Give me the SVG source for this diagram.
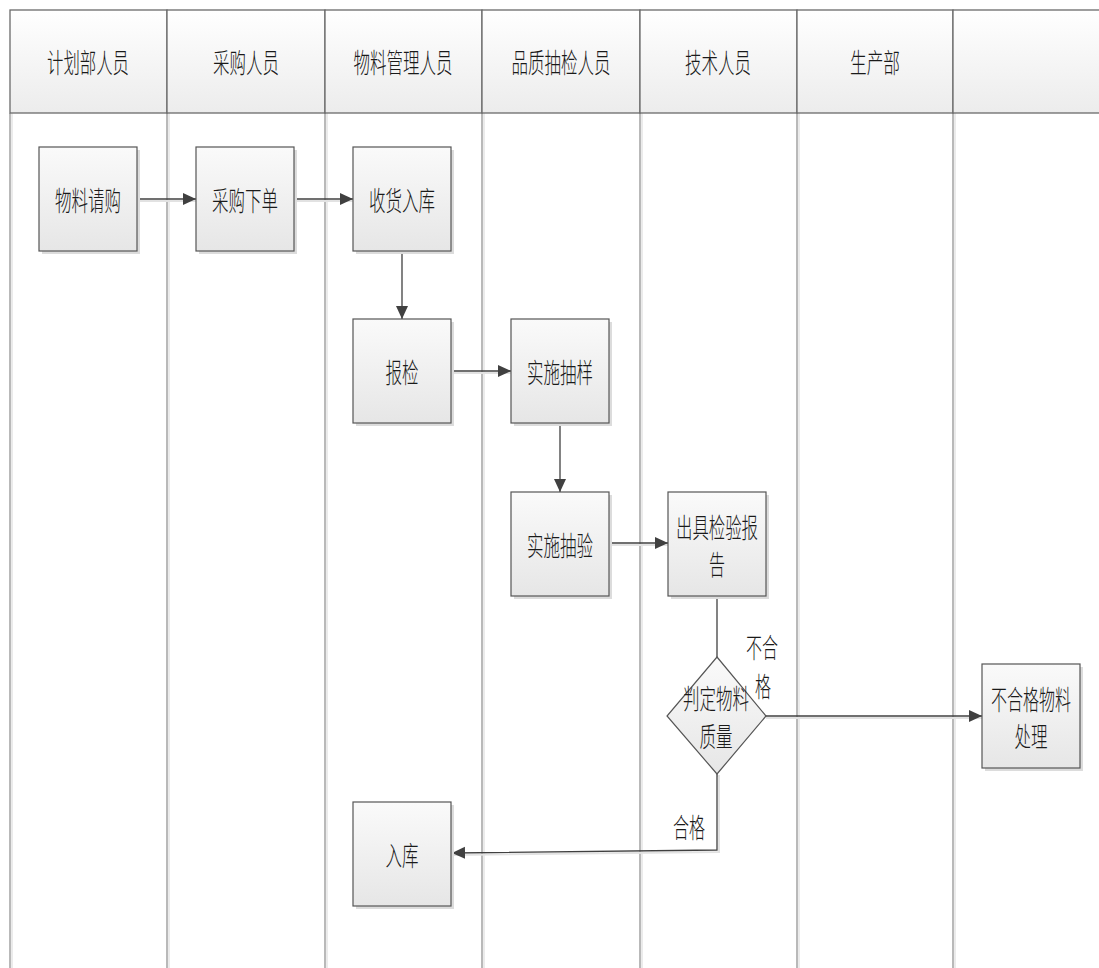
<svg xmlns="http://www.w3.org/2000/svg" width="1099" height="968" viewBox="0 0 1099 968">
  <defs>
    <linearGradient id="hdrFill" x1="0" y1="0" x2="0" y2="1">
      <stop offset="0" stop-color="#ffffff"/>
      <stop offset="1" stop-color="#ececec"/>
    </linearGradient>
    <linearGradient id="boxFill" x1="0" y1="0" x2="0" y2="1">
      <stop offset="0" stop-color="#fafafa"/>
      <stop offset="1" stop-color="#e6e6e6"/>
    </linearGradient>
    <marker id="arrow" markerUnits="userSpaceOnUse" markerWidth="14" markerHeight="14" viewBox="0 0 14 14" refX="13" refY="7" orient="auto">
      <path d="M0,1 L13,7 L0,13 Z" fill="#404040"/>
    </marker>
  </defs>
  <style>
    .lane { stroke: #8a8a8a; stroke-width: 1.2; fill: none; }
    .laneShadow { stroke: #e4e4e4; stroke-width: 1.5; fill: none; }
    .hdr { stroke: #6a6a6a; stroke-width: 1.3; fill: url(#hdrFill); }
    .box { stroke: #555555; stroke-width: 1.2; fill: url(#boxFill); }
    .shadow { fill: #dcdcdc; }
    .edge { stroke: #404040; stroke-width: 1.3; fill: none; }
    .edgeShadow { stroke: #e2e2e2; stroke-width: 2; fill: none; }
    .t { font-family: "Noto Sans CJK SC", "Noto Sans", sans-serif; font-size: 27px; font-weight: 300; fill: #1a1a1a; text-anchor: middle; dominant-baseline: central; }
  </style>

  <rect width="1099" height="968" fill="#ffffff"/>

  <!-- swimlane bodies -->
  <g id="lanes">
    <line class="laneShadow" x1="12" y1="113" x2="12" y2="968"/>
    <line class="laneShadow" x1="169" y1="113" x2="169" y2="968"/>
    <line class="laneShadow" x1="327" y1="113" x2="327" y2="968"/>
    <line class="laneShadow" x1="484" y1="113" x2="484" y2="968"/>
    <line class="laneShadow" x1="642" y1="113" x2="642" y2="968"/>
    <line class="laneShadow" x1="799" y1="113" x2="799" y2="968"/>
    <line class="laneShadow" x1="955" y1="113" x2="955" y2="968"/>
    <line class="lane" x1="10" y1="113" x2="10" y2="968"/>
    <line class="lane" x1="167" y1="113" x2="167" y2="968"/>
    <line class="lane" x1="325" y1="113" x2="325" y2="968"/>
    <line class="lane" x1="482" y1="113" x2="482" y2="968"/>
    <line class="lane" x1="640" y1="113" x2="640" y2="968"/>
    <line class="lane" x1="797" y1="113" x2="797" y2="968"/>
    <line class="lane" x1="953" y1="113" x2="953" y2="968"/>
  </g>

  <!-- lane headers -->
  <g id="headers">
    <rect class="hdr" x="10" y="10" width="157" height="103"/>
    <rect class="hdr" x="167" y="10" width="158" height="103"/>
    <rect class="hdr" x="325" y="10" width="157" height="103"/>
    <rect class="hdr" x="482" y="10" width="158" height="103"/>
    <rect class="hdr" x="640" y="10" width="157" height="103"/>
    <rect class="hdr" x="797" y="10" width="156" height="103"/>
    <rect class="hdr" x="953" y="10" width="150" height="103"/>
    <text class="t" x="88" y="61" textLength="82" lengthAdjust="spacingAndGlyphs">计划部人员</text>
    <text class="t" x="246" y="61" textLength="66" lengthAdjust="spacingAndGlyphs">采购人员</text>
    <text class="t" x="403" y="61" textLength="99" lengthAdjust="spacingAndGlyphs">物料管理人员</text>
    <text class="t" x="561" y="61" textLength="99" lengthAdjust="spacingAndGlyphs">品质抽检人员</text>
    <text class="t" x="718" y="61" textLength="66" lengthAdjust="spacingAndGlyphs">技术人员</text>
    <text class="t" x="875" y="61" textLength="50" lengthAdjust="spacingAndGlyphs">生产部</text>
  </g>

  <!-- connectors -->
  <g id="connectors">
    <path class="edgeShadow" d="M138,201 L196,201"/>
    <path class="edgeShadow" d="M294,201 L353,201"/>
    <path class="edgeShadow" d="M452,373 L511,373"/>
    <path class="edgeShadow" d="M609,545 L668,545"/>
    <path class="edgeShadow" d="M766,718 L982,718"/>
    <path class="edgeShadow" d="M717,776 L719,776 L719,852 L452,855"/>
    <path class="edge" d="M138,199 L196,199" marker-end="url(#arrow)"/>
    <path class="edge" d="M294,199 L353,199" marker-end="url(#arrow)"/>
    <path class="edge" d="M402,251 L402,319" marker-end="url(#arrow)"/>
    <path class="edge" d="M452,371 L511,371" marker-end="url(#arrow)"/>
    <path class="edge" d="M560,423 L560,492" marker-end="url(#arrow)"/>
    <path class="edge" d="M609,543 L668,543" marker-end="url(#arrow)"/>
    <path class="edge" d="M717,595 L717,657"/>
    <path class="edge" d="M766,716 L982,716" marker-end="url(#arrow)"/>
    <path class="edge" d="M717,774 L717,850 L452,853" marker-end="url(#arrow)"/>
    <text class="t" x="762" y="646" textLength="32" lengthAdjust="spacingAndGlyphs">不合</text>
    <text class="t" x="763" y="685" textLength="16" lengthAdjust="spacingAndGlyphs">格</text>
    <text class="t" x="689" y="826" textLength="32" lengthAdjust="spacingAndGlyphs">合格</text>
  </g>

  <g id="n1">
    <rect class="shadow" x="42" y="150" width="98" height="104"/>
    <rect class="box" x="39" y="147" width="98" height="104"/>
    <text class="t" x="88" y="199" textLength="66" lengthAdjust="spacingAndGlyphs">物料请购</text>
  </g>
  <g id="n2">
    <rect class="shadow" x="199" y="150" width="98" height="104"/>
    <rect class="box" x="196" y="147" width="98" height="104"/>
    <text class="t" x="245" y="199" textLength="66" lengthAdjust="spacingAndGlyphs">采购下单</text>
  </g>
  <g id="n3">
    <rect class="shadow" x="356" y="150" width="98" height="104"/>
    <rect class="box" x="353" y="147" width="98" height="104"/>
    <text class="t" x="402" y="199" textLength="66" lengthAdjust="spacingAndGlyphs">收货入库</text>
  </g>
  <g id="n4">
    <rect class="shadow" x="356" y="322" width="98" height="104"/>
    <rect class="box" x="353" y="319" width="98" height="104"/>
    <text class="t" x="402" y="371" textLength="33" lengthAdjust="spacingAndGlyphs">报检</text>
  </g>
  <g id="n5">
    <rect class="shadow" x="514" y="322" width="98" height="104"/>
    <rect class="box" x="511" y="319" width="98" height="104"/>
    <text class="t" x="560" y="371" textLength="66" lengthAdjust="spacingAndGlyphs">实施抽样</text>
  </g>
  <g id="n6">
    <rect class="shadow" x="514" y="495" width="98" height="104"/>
    <rect class="box" x="511" y="492" width="98" height="104"/>
    <text class="t" x="560" y="544" textLength="66" lengthAdjust="spacingAndGlyphs">实施抽验</text>
  </g>
  <g id="n7">
    <rect class="shadow" x="671" y="495" width="98" height="104"/>
    <rect class="box" x="668" y="492" width="98" height="104"/>
    <text class="t" x="717" y="526" textLength="82" lengthAdjust="spacingAndGlyphs">出具检验报</text>
    <text class="t" x="717" y="563" textLength="16" lengthAdjust="spacingAndGlyphs">告</text>
  </g>
  <g id="n8">
    <path class="box" d="M717,657 L766,716 L717,774 L667,716 Z"/>
    <text class="t" x="716" y="697" textLength="66" lengthAdjust="spacingAndGlyphs">判定物料</text>
    <text class="t" x="716" y="735" textLength="33" lengthAdjust="spacingAndGlyphs">质量</text>
  </g>
  <g id="n9">
    <rect class="shadow" x="985" y="667" width="98" height="104"/>
    <rect class="box" x="982" y="664" width="98" height="104"/>
    <text class="t" x="1031" y="698" textLength="80" lengthAdjust="spacingAndGlyphs">不合格物料</text>
    <text class="t" x="1031" y="735" textLength="33" lengthAdjust="spacingAndGlyphs">处理</text>
  </g>
  <g id="n10">
    <rect class="shadow" x="356" y="805" width="98" height="104"/>
    <rect class="box" x="353" y="802" width="98" height="104"/>
    <text class="t" x="402" y="854" textLength="33" lengthAdjust="spacingAndGlyphs">入库</text>
  </g>
</svg>
